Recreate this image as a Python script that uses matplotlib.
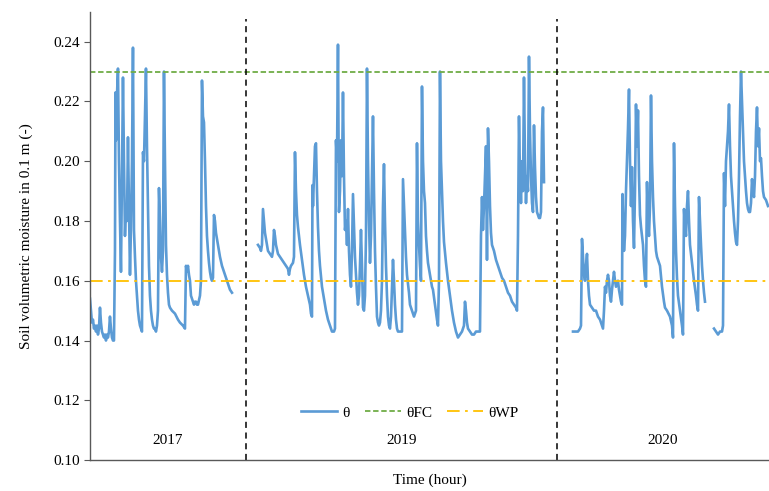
import numpy as np
import matplotlib
matplotlib.use("Agg")
import matplotlib.pyplot as plt

# Soil moisture readings (time index, theta) for each year
seg_2017 = [
    (90, 0.154), (91, 0.150), (92, 0.146), (93, 0.147), (94, 0.144), (95, 0.145),
    (96, 0.143), (97, 0.145), (98, 0.142), (99, 0.144), (100, 0.151), (101, 0.146),
    (102, 0.143), (103, 0.142), (104, 0.141), (105, 0.142), (106, 0.140), (107, 0.142),
    (108, 0.141), (109, 0.143), (110, 0.148), (111, 0.144), (112, 0.141), (113, 0.140),
    (114, 0.140), (115, 0.170), (115.5, 0.223), (116, 0.207), (117, 0.222), (118, 0.231),
    (119, 0.200), (120, 0.180), (121, 0.163), (122, 0.195), (123, 0.228), (124, 0.200),
    (125, 0.175), (126, 0.185), (127, 0.180), (128, 0.208), (129, 0.185), (130, 0.162),
    (131, 0.178), (132, 0.200), (133, 0.238), (134, 0.177), (135, 0.168), (136, 0.160),
    (137, 0.155), (138, 0.150), (139, 0.147), (140, 0.145), (141, 0.144), (142, 0.143),
    (143, 0.203), (144, 0.200), (145, 0.215), (146, 0.231), (147, 0.205), (148, 0.185),
    (149, 0.165), (150, 0.155), (151, 0.150), (152, 0.147), (153, 0.145), (154, 0.144),
    (155, 0.144), (156, 0.143), (157, 0.145), (158, 0.150), (159, 0.191), (160, 0.180),
    (161, 0.168), (162, 0.163), (163, 0.170), (164, 0.230), (165, 0.200), (166, 0.172),
    (167, 0.162), (168, 0.156), (169, 0.152), (170, 0.151), (172, 0.150), (175, 0.149),
    (178, 0.147), (180, 0.146), (183, 0.145), (185, 0.144), (186, 0.165), (187, 0.163),
    (188, 0.165), (189, 0.162), (190, 0.160), (191, 0.155), (192, 0.154), (193, 0.153),
    (194, 0.152), (195, 0.153), (196, 0.153), (197, 0.152), (198, 0.152), (200, 0.155),
    (201, 0.160), (202, 0.227), (203, 0.215), (204, 0.213), (205, 0.200), (206, 0.185),
    (207, 0.175), (208, 0.170), (209, 0.166), (210, 0.163), (211, 0.161), (212, 0.160),
    (213, 0.161), (214, 0.182), (215, 0.180), (216, 0.176), (218, 0.172), (220, 0.168),
    (222, 0.165), (224, 0.163), (226, 0.161), (228, 0.159), (230, 0.157), (232, 0.156),
]

seg_2019 = [
    (258, 0.172), (260, 0.171), (261, 0.170), (262, 0.172), (263, 0.184), (264, 0.180),
    (265, 0.176), (266, 0.174), (267, 0.172), (268, 0.170), (270, 0.169), (272, 0.168),
    (273, 0.170), (274, 0.177), (275, 0.175), (276, 0.172), (278, 0.169), (280, 0.168),
    (282, 0.167), (284, 0.166), (286, 0.165), (288, 0.164), (289, 0.162), (290, 0.164),
    (291, 0.165), (293, 0.166), (294, 0.168), (295, 0.203), (296, 0.190), (297, 0.182),
    (298, 0.178), (300, 0.172), (302, 0.167), (304, 0.162), (306, 0.158), (308, 0.155),
    (310, 0.152), (311, 0.149), (312, 0.148), (312.5, 0.192), (313, 0.185), (314, 0.195),
    (315, 0.205), (316, 0.206), (317, 0.190), (318, 0.178), (319, 0.170), (320, 0.165),
    (322, 0.158), (324, 0.154), (326, 0.150), (328, 0.147), (330, 0.145), (332, 0.143),
    (334, 0.143), (335, 0.144), (336, 0.207), (337, 0.200), (338, 0.239), (339, 0.183),
    (340, 0.190), (341, 0.207), (342, 0.195), (343, 0.223), (344, 0.195), (345, 0.177),
    (346, 0.180), (347, 0.172), (348, 0.184), (349, 0.170), (350, 0.162), (351, 0.158),
    (352, 0.170), (353, 0.189), (354, 0.178), (355, 0.168), (356, 0.162), (357, 0.156),
    (358, 0.152), (359, 0.155), (360, 0.165), (361, 0.177), (362, 0.165), (363, 0.151),
    (364, 0.150), (365, 0.155), (366, 0.175), (367, 0.231), (368, 0.200), (369, 0.180),
    (370, 0.166), (371, 0.175), (372, 0.195), (373, 0.215), (374, 0.190), (375, 0.170),
    (376, 0.158), (377, 0.148), (378, 0.146), (379, 0.145), (380, 0.146), (381, 0.150),
    (382, 0.160), (383, 0.185), (384, 0.199), (385, 0.180), (386, 0.165), (387, 0.155),
    (388, 0.148), (389, 0.145), (390, 0.144), (391, 0.148), (392, 0.158), (393, 0.167),
    (394, 0.160), (395, 0.152), (396, 0.147), (397, 0.144), (398, 0.143), (400, 0.143),
    (402, 0.143), (403, 0.194), (404, 0.185), (405, 0.175), (406, 0.168), (407, 0.162),
    (408, 0.159), (409, 0.156), (410, 0.152), (412, 0.150), (414, 0.148), (416, 0.150),
    (417, 0.206), (418, 0.180), (419, 0.172), (420, 0.165), (421, 0.160), (422, 0.225),
    (423, 0.200), (424, 0.190), (425, 0.186), (426, 0.175), (427, 0.170), (428, 0.166),
    (430, 0.162), (432, 0.158), (433, 0.157), (435, 0.152), (437, 0.147), (438, 0.145),
    (439, 0.160), (440, 0.230), (441, 0.200), (442, 0.190), (443, 0.180), (444, 0.173),
    (446, 0.166), (448, 0.160), (450, 0.155), (452, 0.150), (454, 0.146), (456, 0.143),
    (458, 0.141), (460, 0.142), (462, 0.143), (464, 0.145), (465, 0.153), (466, 0.150),
    (467, 0.146), (468, 0.144), (470, 0.143), (472, 0.142), (474, 0.142), (476, 0.143),
    (478, 0.143), (480, 0.143), (481, 0.175), (482, 0.188), (483, 0.177), (484, 0.185),
    (485, 0.195), (486, 0.205), (487, 0.167), (488, 0.211), (489, 0.200), (490, 0.185),
    (491, 0.176), (492, 0.172), (494, 0.170), (496, 0.167), (498, 0.165), (500, 0.163),
    (502, 0.161), (504, 0.160), (506, 0.158), (508, 0.156), (510, 0.155), (512, 0.153),
    (514, 0.152), (516, 0.151), (517, 0.150), (518, 0.175), (519, 0.215), (520, 0.195),
    (521, 0.186), (522, 0.200), (523, 0.190), (524, 0.228), (525, 0.200), (526, 0.186),
    (527, 0.195), (528, 0.190), (529, 0.235), (530, 0.210), (531, 0.195), (532, 0.186),
    (533, 0.183), (534, 0.212), (535, 0.198), (536, 0.188), (537, 0.183), (538, 0.182),
    (539, 0.181), (540, 0.181), (541, 0.183), (542, 0.210), (543, 0.218), (544, 0.193),
]

seg_2020 = [
    (573, 0.143), (575, 0.143), (578, 0.143), (580, 0.144), (581, 0.145), (582, 0.174),
    (583, 0.168), (584, 0.162), (585, 0.160), (586, 0.165), (587, 0.169), (588, 0.160),
    (589, 0.155), (590, 0.152), (592, 0.151), (594, 0.150), (596, 0.150), (597, 0.149),
    (598, 0.148), (600, 0.147), (602, 0.145), (603, 0.144), (604, 0.150), (605, 0.158),
    (606, 0.156), (607, 0.160), (608, 0.162), (609, 0.160), (610, 0.155), (611, 0.153),
    (612, 0.157), (613, 0.160), (614, 0.163), (615, 0.160), (616, 0.158), (617, 0.159),
    (618, 0.160), (619, 0.157), (620, 0.155), (621, 0.153), (622, 0.152), (622.5, 0.189),
    (623, 0.180), (624, 0.170), (625, 0.175), (626, 0.190), (627, 0.200), (628, 0.211),
    (629, 0.224), (630, 0.200), (631, 0.185), (632, 0.198), (633, 0.180), (634, 0.171),
    (635, 0.190), (636, 0.219), (637, 0.205), (638, 0.217), (639, 0.195), (640, 0.182),
    (641, 0.178), (642, 0.175), (643, 0.172), (644, 0.165), (645, 0.160), (646, 0.158),
    (647, 0.193), (648, 0.180), (649, 0.175), (650, 0.185), (651, 0.222), (652, 0.200),
    (653, 0.188), (654, 0.180), (655, 0.175), (656, 0.170), (657, 0.168), (658, 0.167),
    (660, 0.165), (662, 0.158), (664, 0.153), (665, 0.151), (667, 0.150), (670, 0.148),
    (672, 0.145), (673, 0.141), (674, 0.206), (675, 0.185), (676, 0.170), (677, 0.161),
    (678, 0.155), (680, 0.150), (682, 0.145), (683, 0.142), (684, 0.184), (685, 0.178),
    (686, 0.175), (687, 0.185), (688, 0.190), (689, 0.180), (690, 0.172), (692, 0.166),
    (694, 0.160), (696, 0.155), (697, 0.152), (698, 0.150), (699, 0.188), (700, 0.180),
    (701, 0.172), (702, 0.165), (703, 0.160), (704, 0.156), (705, 0.153),
    (709, np.nan),  # logger gap
    (714, 0.144), (716, 0.143), (718, 0.142), (720, 0.143), (722, 0.143), (723, 0.145),
    (724, 0.196), (725, 0.185), (726, 0.200), (727, 0.205), (728, 0.210), (729, 0.219),
    (730, 0.205), (731, 0.195), (732, 0.190), (733, 0.185), (734, 0.180), (735, 0.176),
    (736, 0.173), (737, 0.172), (738, 0.180), (739, 0.195), (740, 0.215), (741, 0.230),
    (742, 0.220), (743, 0.210), (744, 0.200), (745, 0.195), (746, 0.190), (747, 0.186),
    (748, 0.184), (749, 0.183), (750, 0.183), (751, 0.186), (752, 0.194), (753, 0.190),
    (754, 0.188), (755, 0.195), (756, 0.210), (757, 0.218), (758, 0.205), (759, 0.211),
    (760, 0.200), (761, 0.201), (762, 0.195), (763, 0.190), (764, 0.188), (766, 0.187),
    (768, 0.185),
]

years = ["2017", "2019", "2020"]
year_breaks = [246, 557]
theta_fc = 0.23
theta_wp = 0.16

plt.rcParams["font.family"] = ["Liberation Serif", "DejaVu Serif"]

fig = plt.figure(figsize=(7.69, 4.91), dpi=100)
ax = fig.add_axes([0.117, 0.063, 0.883, 0.913])

blue = "#5B9BD5"
for i, seg in enumerate([seg_2017, seg_2019, seg_2020]):
    t, th = zip(*seg)
    ax.plot(t, th, color=blue, lw=1.9, label="θ" if i == 0 else None)

ax.axhline(theta_fc, color="#70AD47", ls=(0, (3, 1.5)), lw=1.3, label="θFC")
ax.axhline(theta_wp, color="#FFC000", ls=(0, (7, 3, 1.5, 3)), lw=1.3, label="θWP")

for xb in year_breaks:
    ax.axvline(xb, ymin=0, ymax=0.985, color="black", ls=(0, (4, 3)), lw=1.1)

# year labels centred in each block
edges = [90] + year_breaks + [769]
for k, yr in enumerate(years):
    ax.text((edges[k] + edges[k + 1]) / 2, 0.1065, yr, ha="center", va="center", fontsize=11)

ax.set_xlim(90, 769)
ax.set_ylim(0.10, 0.25)
ax.set_yticks(np.arange(0.10, 0.241, 0.02))
ax.set_yticklabels([f"{v:.2f}" for v in np.arange(0.10, 0.241, 0.02)])
ax.set_xticks([])

for s in ["top", "right"]:
    ax.spines[s].set_visible(False)
for s in ["left", "bottom"]:
    ax.spines[s].set_color("#595959")
    ax.spines[s].set_linewidth(1.0)
ax.tick_params(axis="y", direction="out", length=4, color="#595959", labelsize=11)

ax.set_ylabel("Soil volumetric moisture in 0.1 m (-)", fontsize=11, labelpad=14)
ax.set_xlabel("Time (hour)", fontsize=11, labelpad=10)

ax.legend(loc="center", bbox_to_anchor=(0.471, 0.105), ncol=3, frameon=False,
          fontsize=11, handlelength=2.35, columnspacing=1.0, handletextpad=0.35)

fig.savefig("out.png", dpi=100)
